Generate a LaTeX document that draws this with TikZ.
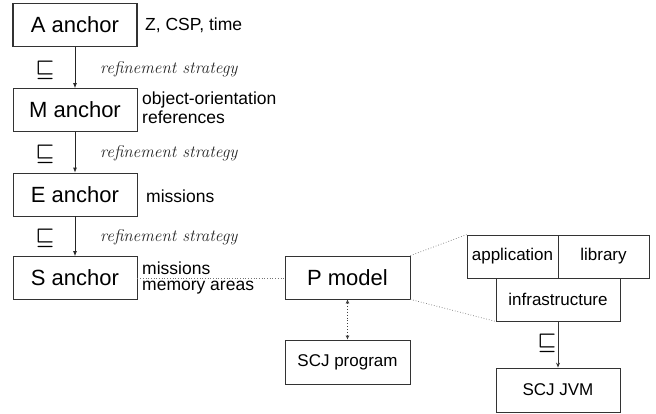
\documentclass[tikz,border=0pt]{standalone}
\usepackage{fontspec}
\setsansfont{Liberation Sans}
\usetikzlibrary{arrows.meta}
\begin{document}
\begin{tikzpicture}[x=1pt,y=-1pt,
  box/.style={draw=black!80,line width=0.8pt,rectangle,inner sep=0pt,font=\sffamily\fontsize{22}{24}\selectfont},
  bigbox/.style={box,minimum width=124pt,minimum height=43pt},
  smallbox/.style={box,font=\sffamily\fontsize{17}{19}\selectfont},
  lbl/.style={anchor=west,inner sep=0pt,font=\sffamily\fontsize{17.5}{19}\selectfont},
  strat/.style={anchor=west,inner sep=0pt,font=\rmfamily\itshape\fontsize{17}{19}\selectfont,text=black!85},
  refsym/.style={inner sep=0pt,font=\mathversion{bold}\fontsize{22}{24}\selectfont},
  refarrow/.style={draw=black!85,line width=0.8pt,-{Latex[length=5pt,width=4pt]}},
  dotline/.style={draw=black!55,line width=0.7pt,dotted}
]
\useasboundingbox (0,0) rectangle (656,413);
% left column
\node[bigbox,line width=1.2pt] (A) at (75,25) {A anchor};
\node[bigbox] (M) at (75,110) {M anchor};
\node[bigbox] (E) at (75,194.5) {E anchor};
\node[bigbox] (S) at (75,278) {S anchor};
\draw[refarrow] (A) -- (M);
\draw[refarrow] (M) -- (E);
\draw[refarrow] (E) -- (S);
\node[refsym] (r1) at (45,70) {$\sqsubseteq$};
\node[refsym] (r2) at (45,154) {$\sqsubseteq$};
\node[refsym] (r3) at (45,238) {$\sqsubseteq$};
\node[strat] (s1) at (100,69) {refinement strategy};
\node[strat] (s2) at (100,153) {refinement strategy};
\node[strat] (s3) at (100,237) {refinement strategy};
\node[lbl] (la) at (145,25) {Z, CSP, time};
\node[lbl] (lm1) at (142,100) {object-orientation};
\node[lbl] (lm2) at (142,117) {references};
\node[lbl] (le) at (146,196) {missions};
\node[lbl] (ls1) at (142,268) {missions};
\node[lbl] (ls2) at (142,288) {memory areas};
% P model
\node[box,minimum width=125pt,minimum height=43pt] (P) at (347.5,277.5) {P model};
\node[smallbox,minimum width=125pt,minimum height=44pt] (prog) at (347.5,362) {SCJ program};
\draw[dotline] (S.east) -- (S.east -| P.west);
\draw[draw=black!75,line width=0.9pt,dotted,{Latex[length=4pt,width=4pt]}-{Latex[length=4pt,width=4pt]}] (P) -- (prog);
% right structure
\node[smallbox,minimum width=91pt,minimum height=43pt] (app) at (512.5,256.5) {application};
\node[smallbox,minimum width=91pt,minimum height=43pt] (lib) at (603.5,256.5) {library};
\node[smallbox,minimum width=124pt,minimum height=43pt] (inf) at (558,299.5) {infrastructure};
\node[smallbox,minimum width=124pt,minimum height=44pt] (jvm) at (558,390) {SCJ JVM};
\draw[draw=black!80,line width=0.6pt,-{Stealth[length=5pt,width=4pt,open]}] (inf) -- (jvm);
\node[refsym] (r4) at (547,343) {$\sqsubseteq$};
\draw[dotline] (P.north east) -- (app.north west);
\draw[dotline] (P.south east) -- (inf.south west);
\end{tikzpicture}
\end{document}
